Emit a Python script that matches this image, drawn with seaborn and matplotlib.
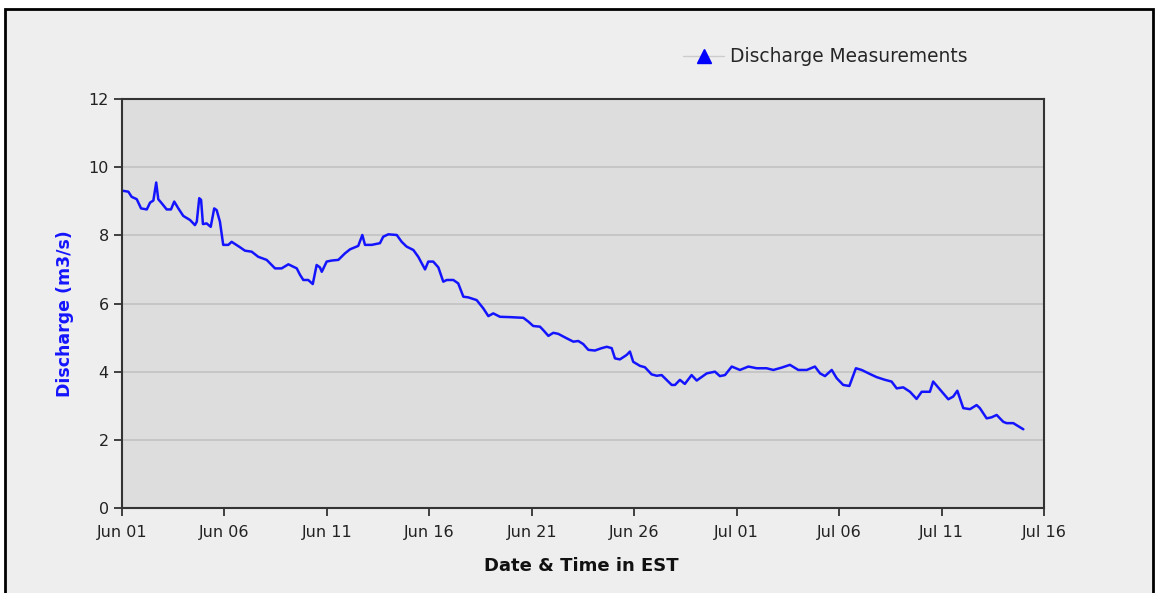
import pandas as pd
import matplotlib
matplotlib.use("Agg")
import matplotlib.pyplot as plt
import matplotlib.dates as mdates
from matplotlib.lines import Line2D
from matplotlib.patches import Rectangle
import seaborn as sns

# time since Jun 01 00:00 (days) and discharge (m3/s)
days = [0.01, 0.31, 0.47, 0.72, 0.93, 1.21, 1.37, 1.53, 1.67, 1.77, 1.94, 2.18, 2.39, 2.55,
        2.75, 2.99, 3.32, 3.56, 3.65, 3.77, 3.86, 3.95, 4.13, 4.33, 4.50, 4.62, 4.78, 4.94,
        5.19, 5.35, 5.76, 6.00, 6.33, 6.65, 7.06, 7.47, 7.79, 8.12, 8.53, 8.69, 8.85, 9.09,
        9.31, 9.50, 9.66, 9.75, 9.99, 10.23, 10.56, 10.88, 11.13, 11.53, 11.73, 11.86, 12.19,
        12.59, 12.75, 13.00, 13.41, 13.65, 13.89, 14.22, 14.46, 14.79, 14.95, 15.19, 15.44,
        15.68, 15.85, 16.17, 16.41, 16.66, 16.90, 17.31, 17.63, 17.88, 18.12, 18.45, 18.94,
        19.59, 19.83, 20.07, 20.40, 20.56, 20.81, 21.05, 21.29, 21.70, 22.03, 22.27, 22.51,
        22.76, 23.08, 23.41, 23.66, 23.90, 24.06, 24.30, 24.63, 24.79, 24.95, 25.28, 25.52,
        25.85, 26.10, 26.34, 26.58, 26.83, 26.99, 27.23, 27.47, 27.80, 28.05, 28.54, 28.94,
        29.18, 29.43, 29.76, 30.16, 30.57, 30.98, 31.46, 31.79, 32.20, 32.60, 33.01, 33.42,
        33.82, 34.07, 34.31, 34.64, 34.88, 35.20, 35.50, 35.82, 36.10, 36.51, 36.83, 37.24,
        37.56, 37.81, 38.13, 38.46, 38.78, 39.03, 39.43, 39.59, 39.92, 40.33, 40.57, 40.77,
        41.06, 41.39, 41.71, 41.87, 42.20, 42.44, 42.69, 43.01, 43.17, 43.50, 43.99]
discharge = [9.31, 9.28, 9.13, 9.06, 8.79, 8.76, 8.96, 9.02, 9.55, 9.06, 8.94, 8.76, 8.76, 8.99,
             8.79, 8.57, 8.45, 8.30, 8.40, 9.09, 9.04, 8.33, 8.35, 8.25, 8.79, 8.74, 8.40, 7.72,
             7.72, 7.81, 7.65, 7.55, 7.52, 7.37, 7.28, 7.03, 7.03, 7.15, 7.03, 6.84, 6.69, 6.69,
             6.57, 7.13, 7.06, 6.93, 7.23, 7.26, 7.28, 7.47, 7.59, 7.69, 8.01, 7.72, 7.72,
             7.77, 7.96, 8.03, 8.01, 7.81, 7.67, 7.57, 7.37, 7.00, 7.23, 7.23, 7.06,
             6.64, 6.69, 6.69, 6.59, 6.20, 6.18, 6.10, 5.86, 5.63, 5.71, 5.61, 5.60,
             5.58, 5.47, 5.34, 5.32, 5.22, 5.05, 5.14, 5.11, 4.98, 4.88, 4.90, 4.81,
             4.64, 4.62, 4.69, 4.73, 4.69, 4.39, 4.36, 4.49, 4.59, 4.29, 4.17, 4.13,
             3.92, 3.88, 3.90, 3.76, 3.61, 3.61, 3.76, 3.64, 3.90, 3.74, 3.95, 4.00,
             3.87, 3.90, 4.15, 4.05, 4.15, 4.10, 4.10, 4.05, 4.12, 4.20, 4.05, 4.05,
             4.15, 3.95, 3.87, 4.05, 3.81, 3.61, 3.58, 4.10, 4.05, 3.93, 3.84, 3.76,
             3.71, 3.51, 3.54, 3.41, 3.20, 3.41, 3.41, 3.71, 3.48, 3.19, 3.27, 3.44,
             2.93, 2.90, 3.02, 2.93, 2.63, 2.66, 2.73, 2.53, 2.49, 2.49, 2.31]

start = pd.Timestamp("2023-06-01")
end = pd.Timestamp("2023-07-16")
tick_dates = pd.date_range(start, end, freq="5D")
y_ticks = [0, 2, 4, 6, 8, 10, 12]

df = pd.DataFrame({"time": start + pd.to_timedelta(days, unit="D"), "discharge": discharge})

sns.set_style("white")
plt.rcParams["font.family"] = ["DejaVu Sans"]

fig = plt.figure(figsize=(11.56, 5.93), dpi=100, facecolor="white")
# outer panel with black frame, kept behind the axes
fig.patches.append(Rectangle((5 / 1156, -0.02), 1148 / 1156, 0.02 + 584 / 593,
                             transform=fig.transFigure, facecolor="#eeeeee",
                             edgecolor="black", lw=2, zorder=-5))

ax = fig.add_axes([122 / 1156, 85 / 593, 922 / 1156, 409 / 593])
ax.set_zorder(2)
ax.set_facecolor("#dddddd")

sns.lineplot(data=df, x="time", y="discharge", color="#1414ff", lw=1.8, ax=ax)

ax.set_xlim(start, end)
ax.set_ylim(0, 12)
ax.set_xticks(tick_dates)
ax.xaxis.set_major_formatter(mdates.DateFormatter("%b %d"))
ax.set_yticks(y_ticks)
ax.grid(axis="y", color="#c2c2c2", lw=1.2)
ax.grid(axis="x", visible=False)
ax.tick_params(axis="both", direction="out", length=6, width=1.2, colors="#222222",
               labelsize=11.5, left=True, bottom=True)
ax.tick_params(axis="x", pad=6)

for side in ["left", "bottom", "top", "right"]:
    ax.spines[side].set_visible(True)
    ax.spines[side].set_color("#333333")
    ax.spines[side].set_linewidth(1.5)

ax.set_xlabel("Date & Time in EST", fontsize=13, fontweight="bold", color="#111111")
ax.set_ylabel("Discharge (m3/s)", fontsize=12.5, fontweight="bold", color="#1414ff")
ax.xaxis.set_label_coords(0.498, -0.12)
ax.yaxis.set_label_coords(-0.052, 0.476)

# legend for the field measurements series (none in this period)
meas = Line2D([], [], color="#cccccc", lw=1, marker="^", markersize=10,
              markerfacecolor="blue", markeredgecolor="blue")
fig.legend([meas], ["Discharge Measurements"], loc="center left",
           bbox_to_anchor=(674 / 1156, 0.904), frameon=False, fontsize=13.4,
           handlelength=2.2, handletextpad=0.3, borderpad=0)

fig.savefig("out.png", dpi=100, facecolor=fig.get_facecolor())
